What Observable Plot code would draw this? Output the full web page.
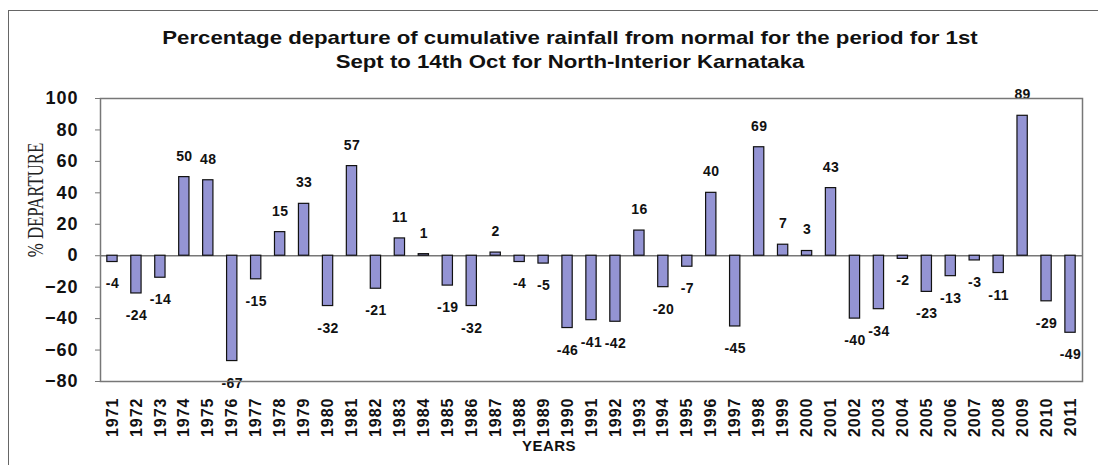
<!DOCTYPE html>
<html>
<head>
<meta charset="utf-8">
<script src="https://cdn.jsdelivr.net/npm/d3@7"></script>
<script src="https://cdn.jsdelivr.net/npm/@observablehq/plot@0.6"></script>
<style>
  html, body { margin: 0; padding: 0; background: #fff; }
  #wrap { position: relative; width: 1098px; height: 465px; overflow: hidden; font-family: "Liberation Sans", Arial, sans-serif; }
  #border { position: absolute; left: 8px; top: 10px; width: 1100px; height: 470px; border: 1.5px solid #666; box-sizing: border-box; }
  #title { position: absolute; left: 70px; width: 1000px; top: 26px; text-align: center; font-weight: bold; font-size: 18.5px; line-height: 24px; color: #111; transform: scaleX(1.2); transform-origin: 500px 0; white-space: nowrap; }
  #ylabel { position: absolute; left: 35px; top: 200px; transform: translate(-50%, -50%) rotate(-90deg) scaleX(0.7); font-family: "Liberation Serif", "Times New Roman", serif; font-size: 24px; white-space: nowrap; color: #222; }
  #xlabel { position: absolute; left: 549px; top: 445px; transform: translate(-50%, -50%); font-weight: bold; font-size: 15px; letter-spacing: 0.5px; color: #111; }
  #chart { position: absolute; left: 0; top: 0; }
  #chart g[aria-label="text"] text { letter-spacing: 0.4px; }
  #chart g[aria-label="y-axis tick label"] text { letter-spacing: 1px; }
  #chart g[aria-label="x-axis tick label"] text { letter-spacing: 1px; }
</style>
</head>
<body>
<div id="wrap">
  <div id="border"></div>
  <div id="chart"></div>
  <div id="title">Percentage departure of cumulative rainfall from normal for the period for 1st<br>Sept to 14th Oct for North-Interior Karnataka</div>
  <div id="ylabel">% DEPARTURE</div>
  <div id="xlabel">YEARS</div>
</div>
<script>
const years = ["1971","1972","1973","1974","1975","1976","1977","1978","1979","1980",
  "1981","1982","1983","1984","1985","1986","1987","1988","1989","1990",
  "1991","1992","1993","1994","1995","1996","1997","1998","1999","2000",
  "2001","2002","2003","2004","2005","2006","2007","2008","2009","2010","2011"];
const departures = [-4,-24,-14,50,48,-67,-15,15,33,-32,
  57,-21,11,1,-19,-32,2,-4,-5,-46,
  -41,-42,16,-20,-7,40,-45,69,7,3,
  43,-40,-34,-2,-23,-13,-3,-11,89,-29,-49];
const yTicks = [-80,-60,-40,-20,0,20,40,60,80,100];

const data = years.map((y, i) => ({year: y, value: departures[i]}));

const chart = Plot.plot({
  width: 1098,
  height: 465,
  marginTop: 98,
  marginBottom: 84,
  marginLeft: 100,
  marginRight: 16,
  style: {background: "transparent", fontFamily: "'Liberation Sans', Arial, sans-serif", color: "#111"},
  x: {domain: years, paddingInner: 0.57, paddingOuter: 0.285},
  y: {domain: [-80, 100]},
  marks: [
    Plot.ruleY([0], {stroke: "#777", strokeWidth: 1.5}),
    Plot.barY(data, {x: "year", y: "value", fill: "#9494d4", stroke: "#111", strokeWidth: 1.2}),
    Plot.text(data.filter(d => d.value >= 0), {x: "year", y: "value", text: d => String(d.value), dy: -21, lineAnchor: "middle", fontWeight: "bold", fontSize: 14, fill: "#111"}),
    Plot.text(data.filter(d => d.value < 0), {x: "year", y: "value", text: d => String(d.value), dy: 22, lineAnchor: "middle", fontWeight: "bold", fontSize: 14, fill: "#111"}),
    Plot.axisY({ticks: yTicks, tickSize: 5, tickPadding: 17, label: null, fontWeight: "bold", fontSize: 18, stroke: "#777"}),
    Plot.axisX({tickRotate: -90, tickSize: 0, tickPadding: 16, label: null, fontWeight: "bold", fontSize: 16}),
    Plot.frame({stroke: "#777", strokeWidth: 1.5})
  ]
});
document.getElementById("chart").appendChild(chart);
</script>
</body>
</html>
